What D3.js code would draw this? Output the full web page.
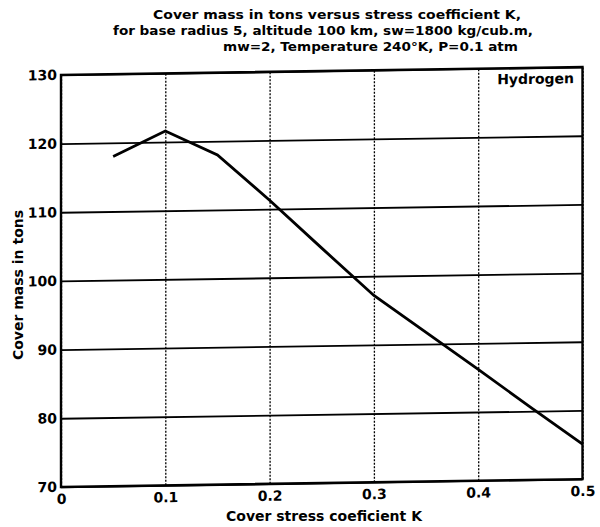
<!DOCTYPE html>
<html>
<head>
<meta charset="utf-8">
<script src="https://cdn.jsdelivr.net/npm/d3@7"></script>
<style>
  body { margin: 0; background: #fff; }
  text { font-family: "DejaVu Sans", sans-serif; font-weight: bold; fill: #000; }
</style>
</head>
<body>
<div id="chart"></div>
<script>
/* data */
const stressK = [0.05, 0.1, 0.15, 0.2, 0.25, 0.3, 0.35, 0.4, 0.45, 0.5];
const coverMass = [118, 121.6, 118, 111.3, 104.2, 97.2, 91.7, 86.2, 80.6, 75.1];
const xTicks = [0, 0.1, 0.2, 0.3, 0.4, 0.5];
const xTickLabels = ["0", "0.1", "0.2", "0.3", "0.4", "0.5"];
const yTicks = [70, 80, 90, 100, 110, 120, 130];
const titleLines = [
  "Cover mass in tons  versus stress coefficient K,",
  "for base radius 5, altitude 100 km, sw=1800 kg/cub.m,",
  "mw=2, Temperature 240\u00B0K,  P=0.1 atm"
];

const width = 600, height = 527;
const plotLeft = 61, plotRight = 582.5, plotTop = 71, plotBottom = 483;

const svg = d3.select("#chart").append("svg")
  .attr("width", width)
  .attr("height", height);

/* title, three hand-placed lines like the original */
const titlePos = [
  {x: 153, y: 19, w: 368},
  {x: 113, y: 35, w: 420},
  {x: 223, y: 51, w: 295}
];
svg.selectAll(".title")
  .data(titleLines)
  .enter().append("text")
  .attr("class", "title")
  .attr("x", (d, i) => titlePos[i].x)
  .attr("y", (d, i) => titlePos[i].y)
  .attr("textLength", (d, i) => titlePos[i].w)
  .attr("lengthAdjust", "spacingAndGlyphs")
  .style("font-size", "13px")
  .style("font-weight", "900")
  .text(d => d);

const x = d3.scaleLinear().domain([0, 0.5]).range([plotLeft, plotRight]);
const y = d3.scaleLinear().domain([70, 130]).range([plotBottom, plotTop]);

/* the scanned page is a bit skewed, right side higher */
const cx = (plotLeft + plotRight) / 2, cy = (plotTop + plotBottom) / 2;
const plot = svg.append("g")
  .attr("transform", `translate(${cx},${cy}) skewY(-0.86) translate(${-cx},${-cy})`);

/* horizontal grid */
plot.append("g")
  .attr("transform", `translate(${plotLeft},0)`)
  .call(d3.axisLeft(y).tickValues(yTicks).tickSize(-(plotRight - plotLeft)).tickFormat(""))
  .call(g => g.select(".domain").remove())
  .call(g => g.selectAll("line").attr("stroke", "#000").attr("stroke-width", 1.8));

/* vertical grid, dotted */
plot.append("g")
  .attr("transform", `translate(0,${plotBottom})`)
  .call(d3.axisBottom(x).tickValues(xTicks).tickSize(-(plotBottom - plotTop)).tickFormat(""))
  .call(g => g.select(".domain").remove())
  .call(g => g.selectAll("line").attr("stroke", "#000").attr("stroke-width", 1.3)
    .attr("stroke-dasharray", "2,1.5"));

/* frame */
plot.append("rect")
  .attr("x", plotLeft).attr("y", plotTop)
  .attr("width", plotRight - plotLeft).attr("height", plotBottom - plotTop)
  .attr("fill", "none").attr("stroke", "#000").attr("stroke-width", 2.4);

/* tick labels */
plot.append("g")
  .attr("transform", `translate(${plotLeft},0)`)
  .call(d3.axisLeft(y).tickValues(yTicks).tickSize(0).tickPadding(4))
  .call(g => g.select(".domain").remove())
  .call(g => g.selectAll("text").style("font-size", "14px")
    .style("font-family", "'DejaVu Sans', sans-serif").style("font-weight", "bold"));

plot.append("g")
  .attr("transform", `translate(0,${plotBottom})`)
  .call(d3.axisBottom(x).tickValues(xTicks).tickSize(0).tickPadding(7)
    .tickFormat((d, i) => xTickLabels[i]))
  .call(g => g.select(".domain").remove())
  .call(g => g.selectAll("text").style("font-size", "14px")
    .style("font-family", "'DejaVu Sans', sans-serif").style("font-weight", "bold"));

/* the curve */
const line = d3.line()
  .x((d, i) => x(stressK[i]))
  .y(d => y(d));
plot.append("path")
  .datum(coverMass)
  .attr("d", line)
  .attr("fill", "none")
  .attr("stroke", "#000")
  .attr("stroke-width", 2.8)
  .attr("stroke-linejoin", "miter");

plot.append("text")
  .attr("x", 574)
  .attr("y", 87)
  .attr("text-anchor", "end")
  .style("font-size", "14px")
  .text("Hydrogen");

/* axis titles */
svg.append("text")
  .attr("x", 324)
  .attr("y", 521)
  .attr("text-anchor", "middle")
  .style("font-size", "14px")
  .text("Cover stress coeficient K");

svg.append("text")
  .attr("transform", "translate(23,285) rotate(-90)")
  .attr("text-anchor", "middle")
  .style("font-size", "14px")
  .text("Cover mass in tons");
</script>
</body>
</html>
